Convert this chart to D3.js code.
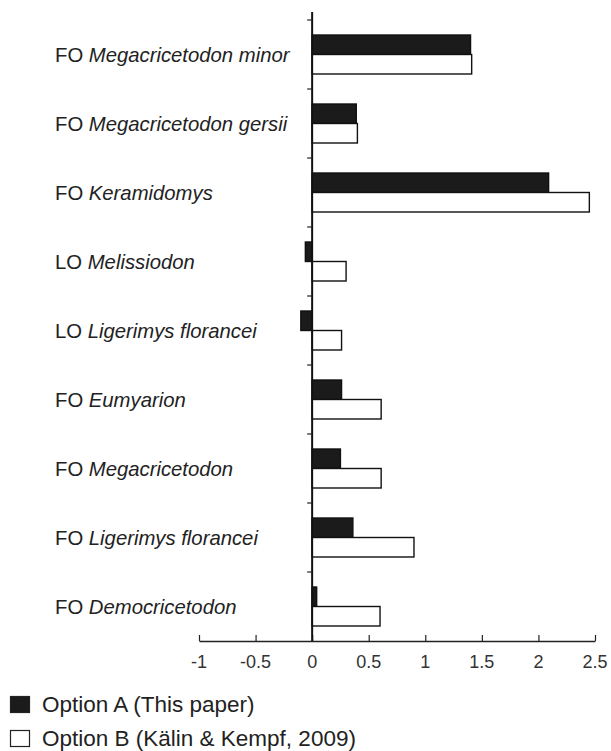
<!DOCTYPE html>
<html>
<head>
<meta charset="utf-8">
<script src="https://cdn.jsdelivr.net/npm/d3@7"></script>
<style>
  html, body { margin: 0; padding: 0; background: #fff; }
  svg { display: block; }
  text { font-family: "Liberation Sans", Arial, Helvetica, sans-serif; }
</style>
</head>
<body>
<svg id="chart" width="611" height="751"></svg>
<script>
// ---- data ----
const prefixes = ["FO", "FO", "FO", "LO", "LO", "FO", "FO", "FO", "FO"];
const taxa = ["Megacricetodon minor", "Megacricetodon gersii", "Keramidomys", "Melissiodon",
              "Ligerimys florancei", "Eumyarion", "Megacricetodon", "Ligerimys florancei", "Democricetodon"];
const optionA = [1.40, 0.39, 2.09, -0.06, -0.10, 0.26, 0.25, 0.36, 0.04];
const optionB = [1.41, 0.40, 2.45, 0.30, 0.26, 0.61, 0.61, 0.90, 0.60];
const xTicks = [-1, -0.5, 0, 0.5, 1, 1.5, 2, 2.5];
const xTickLabels = ["-1", "-0.5", "0", "0.5", "1", "1.5", "2", "2.5"];
const seriesNames = ["Option A (This paper)", "Option B (Kälin & Kempf, 2009)"];

// ---- layout ----
const svg = d3.select("#chart");
const ids = taxa.map((t, i) => i);

const x = d3.scaleLinear().domain([-1, 2.5]).range([199, 595]);
const y = d3.scaleBand().domain(ids).range([20, 641]).padding(0);
const ySub = d3.scaleBand().domain(["A", "B"]).range([0, y.bandwidth()]).paddingInner(0).paddingOuter(0.77);

const rows = ids.map(i => ({ i, A: optionA[i], B: optionB[i] }));

// bars
const g = svg.append("g");
rows.forEach(r => {
  [["A", r.A, "#1b1b1b"], ["B", r.B, "#ffffff"]].forEach(([k, v, fill]) => {
    g.append("rect")
      .attr("x", x(Math.min(0, v)))
      .attr("y", y(r.i) + ySub(k))
      .attr("width", Math.abs(x(v) - x(0)))
      .attr("height", ySub.bandwidth())
      .attr("fill", fill)
      .attr("stroke", "#111")
      .attr("stroke-width", 1.4);
  });
});

// x axis (ticks pointing up)
const xAxis = svg.append("g").attr("transform", "translate(0,641)")
  .call(d3.axisTop(x).tickValues(xTicks).tickSize(6).tickSizeOuter(0).tickFormat(() => ""));
xAxis.select(".domain").attr("stroke", "#222").attr("stroke-width", 1.4);
xAxis.selectAll(".tick line").attr("stroke", "#222").attr("stroke-width", 1.2);
svg.append("g").selectAll("text").data(xTicks).join("text")
  .attr("x", d => x(d))
  .attr("y", 668)
  .attr("text-anchor", "middle")
  .attr("font-size", 18)
  .attr("fill", "#333")
  .text((d, i) => xTickLabels[i]);

// y axis at zero with ticks pointing left at band boundaries
const yAxis = svg.append("g");
yAxis.append("line")
  .attr("x1", x(0)).attr("x2", x(0))
  .attr("y1", 12).attr("y2", 641)
  .attr("stroke", "#111").attr("stroke-width", 2);
yAxis.selectAll("line.tk").data(ids).join("line")
  .attr("class", "tk")
  .attr("x1", x(0) - 5).attr("x2", x(0))
  .attr("y1", d => y(d)).attr("y2", d => y(d))
  .attr("stroke", "#222").attr("stroke-width", 1.2);

// category labels
const labels = svg.append("g").selectAll("text").data(ids).join("text")
  .attr("x", 55)
  .attr("y", d => y(d) + y.bandwidth() / 2)
  .attr("dy", "0.35em")
  .attr("font-size", 20.3)
  .attr("fill", "#222");
labels.append("tspan").text(d => prefixes[d] + " ");
labels.append("tspan").attr("font-style", "italic").text(d => taxa[d]);

// legend
const leg = svg.append("g");
const legFill = ["#1b1b1b", "#ffffff"];
const legY = [712, 746];
seriesNames.forEach((name, i) => {
  leg.append("rect")
    .attr("x", 10.5).attr("y", legY[i] - 15.5)
    .attr("width", 19).attr("height", 16)
    .attr("fill", legFill[i]).attr("stroke", "#222").attr("stroke-width", 1.2);
  leg.append("text")
    .attr("x", 42).attr("y", legY[i])
    .attr("font-size", 22.5)
    .attr("fill", "#222")
    .text(name);
});
</script>
</body>
</html>
